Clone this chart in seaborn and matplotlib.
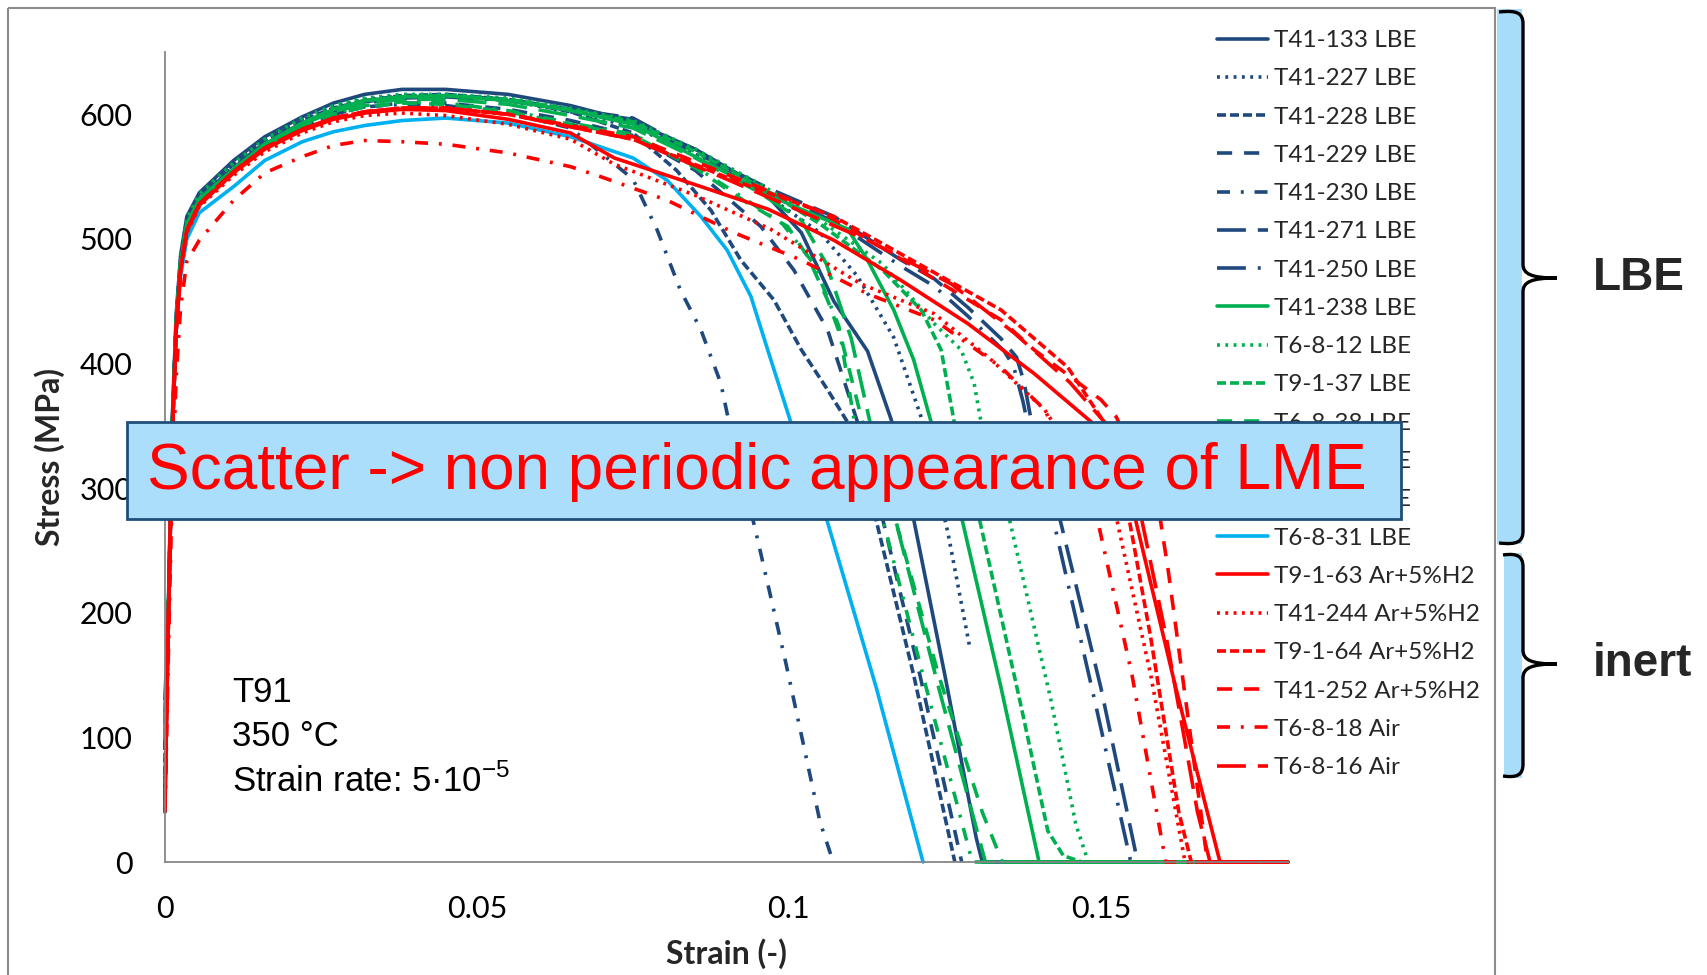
import pandas as pd
import matplotlib
matplotlib.use("Agg")
import matplotlib.pyplot as plt
from matplotlib.patches import Rectangle, PathPatch
from matplotlib.path import Path
import seaborn as sns

# ==========================================
# 1. Data (strain [-], stress [MPa])
# ==========================================
labels = ["T41-133 LBE", "T41-227 LBE", "T41-228 LBE", "T41-229 LBE", "T41-230 LBE",
          "T41-271 LBE", "T41-250 LBE", "T41-238 LBE", "T6-8-12 LBE", "T9-1-37 LBE",
          "T6-8-38 LBE", "T6-8-35 LBE", "T6-8-36 LBE", "T6-8-31 LBE",
          "T9-1-63 Ar+5%H2", "T41-244 Ar+5%H2", "T9-1-64 Ar+5%H2", "T41-252 Ar+5%H2",
          "T6-8-18 Air", "T6-8-16 Air"]

navy, green, cyan, red = "#1F497D", "#00B050", "#00B0F0", "#FF0000"
colors = [navy] * 7 + [green] * 6 + [cyan] + [red] * 6

solid, dot, dash, mdash = "", (0.8, 1.5), (2.5, 1.1), (4.2, 3.3)
dashdot, ldash, ldashdot = (3.6, 3, 0.8, 3), (8, 3.3), (8, 3.3, 0.8, 3.3)
styles = [solid, dot, dash, mdash, dashdot, ldash, ldashdot,
          solid, dot, dash, mdash, dashdot, ldash, solid,
          solid, dot, dash, mdash, dashdot, ldash]

# common strain grid of the elastic / hardening part
rise_strain = [0.0, 0.0006, 0.0012, 0.0018, 0.0025, 0.0035, 0.0055, 0.011,
               0.016, 0.022, 0.027, 0.032, 0.038, 0.045, 0.055, 0.065]

rise_t41_133 = [40, 220, 360, 440, 487, 518, 537, 563, 582, 598, 609, 616, 620, 620, 616, 607]
rise_t41_227 = [60, 215, 355, 436, 483, 514, 534, 560, 580, 596, 606, 612, 615, 615, 611, 602]
rise_t41_228 = [80, 215, 355, 435, 483, 515, 535, 560, 579, 595, 605, 611, 615, 616, 612, 602]
rise_t41_229 = [90, 212, 352, 432, 478, 510, 530, 555, 574, 590, 600, 606, 609, 609, 604, 595]
rise_t41_230 = [90, 212, 352, 432, 478, 510, 530, 555, 574, 590, 600, 606, 608, 607, 601, 589]
rise_t41_271 = [120, 215, 355, 435, 481, 512, 532, 558, 577, 593, 603, 610, 614, 615, 612, 604]
rise_t41_250 = [130, 215, 355, 435, 481, 512, 532, 557, 576, 592, 602, 609, 613, 614, 611, 603]
rise_t41_238 = [100, 212, 352, 432, 480, 512, 532, 556, 576, 593, 604, 611, 614, 615, 611, 603]
rise_t6_8_12 = [100, 215, 356, 436, 484, 516, 536, 561, 580, 597, 607, 613, 616, 616, 613, 605]
rise_t9_1_37 = [100, 212, 352, 432, 480, 511, 531, 556, 576, 593, 604, 611, 614, 615, 612, 604]
rise_t6_8_38 = [110, 212, 350, 430, 478, 510, 530, 555, 574, 590, 600, 606, 609, 608, 602, 592]
rise_t6_8_35 = [110, 212, 350, 430, 478, 510, 530, 555, 575, 591, 601, 607, 610, 609, 603, 593]
rise_t6_8_36 = [110, 212, 352, 432, 479, 511, 531, 556, 575, 592, 602, 609, 612, 612, 608, 599]
rise_t6_8_31 = [100, 205, 345, 425, 470, 500, 521, 542, 563, 578, 586, 591, 595, 597, 593, 582]
rise_t9_1_63 = [50, 208, 348, 428, 475, 506, 527, 553, 572, 587, 596, 601, 604, 603, 596, 585]
rise_t41_244 = [60, 208, 348, 428, 474, 505, 526, 551, 570, 585, 594, 599, 601, 599, 592, 580]
rise_t9_1_64 = [70, 208, 348, 428, 476, 507, 528, 554, 573, 588, 597, 602, 605, 605, 600, 590]
rise_t41_252 = [50, 208, 348, 428, 476, 507, 528, 554, 573, 588, 597, 602, 605, 605, 600, 591]
rise_t6_8_18 = [40, 180, 310, 390, 445, 482, 499, 531, 553, 566, 575, 579, 578, 576, 569, 558]
rise_t6_8_16 = [60, 208, 348, 428, 476, 507, 528, 554, 573, 588, 597, 602, 605, 605, 600, 590]

# necking and fracture part, (strain, stress)
tail_t41_133 = [(0.075, 594), (0.085, 572), (0.095, 543), (0.102, 505), (0.1072, 450), (0.1126, 410),
                (0.1164, 355), (0.119, 300), (0.125, 150), (0.130, 20), (0.131, 0), (0.18, 0)]
tail_t41_227 = [(0.075, 590), (0.085, 568), (0.095, 540), (0.105, 505), (0.111, 470), (0.1168, 421),
                (0.1212, 357), (0.1255, 264), (0.129, 172)]
tail_t41_228 = [(0.075, 585), (0.082, 555), (0.0875, 523), (0.0923, 483), (0.0976, 451), (0.102, 411),
                (0.1062, 379), (0.1094, 353), (0.1139, 276), (0.120, 150), (0.1266, 0)]
tail_t41_229 = [(0.075, 583), (0.085, 555), (0.0955, 510), (0.1008, 475), (0.1062, 427), (0.111, 353),
                (0.115, 276), (0.121, 150), (0.1277, 0)]
tail_t41_230 = [(0.075, 548), (0.0789, 507), (0.0826, 459), (0.0859, 427), (0.0891, 384), (0.0901, 360),
                (0.0947, 265), (0.0995, 160), (0.1023, 95), (0.105, 32), (0.1071, 0)]
tail_t41_271 = [(0.075, 597), (0.0875, 563), (0.097, 540), (0.1072, 518), (0.118, 483), (0.1233, 468),
                (0.1287, 445), (0.134, 420), (0.1365, 405), (0.1377, 385), (0.139, 350), (0.1436, 272),
                (0.150, 140), (0.1559, 0), (0.18, 0)]
tail_t41_250 = [(0.075, 596), (0.0875, 560), (0.097, 537), (0.1072, 514), (0.118, 478), (0.1233, 462),
                (0.1287, 438), (0.1345, 410), (0.136, 398), (0.1375, 370), (0.1392, 330), (0.1425, 272),
                (0.149, 130), (0.1548, 0), (0.18, 0)]
tail_t41_238 = [(0.075, 592), (0.085, 566), (0.095, 540), (0.1, 528), (0.1094, 508), (0.1126, 483),
                (0.1168, 443), (0.120, 403), (0.1228, 353), (0.1277, 276), (0.134, 140), (0.1401, 0),
                (0.18, 0)]
tail_t6_8_12 = [(0.075, 595), (0.085, 572), (0.095, 545), (0.105, 515), (0.115, 480), (0.1233, 432),
                (0.1276, 411), (0.1297, 384), (0.1308, 353), (0.1353, 276), (0.142, 130), (0.146, 30),
                (0.148, 0), (0.18, 0)]
tail_t9_1_37 = [(0.075, 594), (0.085, 570), (0.095, 543), (0.105, 512), (0.115, 475), (0.1212, 443),
                (0.1244, 411), (0.1265, 353), (0.1305, 276), (0.137, 130), (0.1415, 25), (0.144, 5),
                (0.147, 0), (0.18, 0)]
tail_t6_8_38 = [(0.075, 583), (0.085, 557), (0.093, 530), (0.0998, 510), (0.103, 486), (0.1062, 451),
                (0.1083, 422), (0.1118, 353), (0.117, 276), (0.124, 150), (0.131, 40), (0.1342, 0),
                (0.18, 0)]
tail_t6_8_35 = [(0.075, 584), (0.085, 558), (0.093, 532), (0.099, 512), (0.104, 480), (0.108, 430),
                (0.1105, 353), (0.115, 276), (0.122, 140), (0.1294, 0), (0.18, 0)]
tail_t6_8_36 = [(0.075, 589), (0.085, 565), (0.095, 538), (0.102, 515), (0.106, 480), (0.110, 420),
                (0.113, 353), (0.117, 276), (0.124, 140), (0.1315, 0), (0.18, 0)]
tail_t6_8_31 = [(0.075, 565), (0.0805, 547), (0.0859, 518), (0.0901, 491), (0.0939, 454), (0.0966, 411),
                (0.1003, 353), (0.106, 276), (0.114, 140), (0.1215, 0)]
tail_t9_1_63 = [(0.072, 565), (0.0859, 542), (0.0966, 524), (0.1072, 499), (0.1179, 467), (0.1287, 432),
                (0.1393, 392), (0.1485, 353), (0.1555, 276), (0.162, 140), (0.1691, 0), (0.18, 0)]
tail_t41_244 = [(0.072, 560), (0.085, 535), (0.097, 508), (0.1115, 464), (0.1233, 440), (0.132, 405),
                (0.141, 363), (0.1465, 320), (0.1525, 276), (0.158, 150), (0.1635, 0), (0.18, 0)]
tail_t9_1_64 = [(0.075, 580), (0.0912, 547), (0.1072, 518), (0.1233, 473), (0.134, 443), (0.1447, 397),
                (0.1505, 353), (0.154, 290), (0.158, 180), (0.1625, 40), (0.1645, 0), (0.18, 0)]
tail_t41_252 = [(0.075, 582), (0.09, 552), (0.105, 522), (0.12, 478), (0.134, 435), (0.1393, 411),
                (0.1447, 391), (0.150, 371), (0.1525, 357), (0.1595, 276), (0.1608, 234), (0.1671, 0),
                (0.18, 0)]
tail_t6_8_18 = [(0.0698, 550), (0.0805, 531), (0.0912, 505), (0.102, 483), (0.1126, 456), (0.1233, 435),
                (0.134, 397), (0.141, 363), (0.1494, 276), (0.155, 150), (0.1604, 0), (0.18, 0)]
tail_t6_8_16 = [(0.075, 580), (0.09, 548), (0.1126, 499), (0.126, 464), (0.136, 425), (0.145, 385),
                (0.152, 345), (0.1565, 276), (0.1605, 180), (0.1655, 40), (0.1675, 0), (0.18, 0)]

rises = [rise_t41_133, rise_t41_227, rise_t41_228, rise_t41_229, rise_t41_230, rise_t41_271,
         rise_t41_250, rise_t41_238, rise_t6_8_12, rise_t9_1_37, rise_t6_8_38, rise_t6_8_35,
         rise_t6_8_36, rise_t6_8_31, rise_t9_1_63, rise_t41_244, rise_t9_1_64, rise_t41_252,
         rise_t6_8_18, rise_t6_8_16]
tails = [tail_t41_133, tail_t41_227, tail_t41_228, tail_t41_229, tail_t41_230, tail_t41_271,
         tail_t41_250, tail_t41_238, tail_t6_8_12, tail_t9_1_37, tail_t6_8_38, tail_t6_8_35,
         tail_t6_8_36, tail_t6_8_31, tail_t9_1_63, tail_t41_244, tail_t9_1_64, tail_t41_252,
         tail_t6_8_18, tail_t6_8_16]

rows = []
for lab, rise, tail in zip(labels, rises, tails):
    for e, s in zip(rise_strain, rise):
        rows.append((lab, e, s))
    for e, s in tail:
        rows.append((lab, e, s))
df = pd.DataFrame(rows, columns=["sample", "strain", "stress"])

# ==========================================
# 2. Plot
# ==========================================
sns.set_style("white")
plt.rcParams["font.family"] = ["Lato", "DejaVu Sans"]
plt.rcParams["mathtext.fontset"] = "custom"
plt.rcParams["mathtext.rm"] = "Liberation Sans"

W, H = 1707, 975
fig = plt.figure(figsize=(W / 100, H / 100), dpi=100)
ax = fig.add_axes([165 / W, 1 - 862 / H, (1288 - 165) / W, (862 - 52) / H])

sns.lineplot(data=df, x="strain", y="stress", hue="sample", style="sample",
             hue_order=labels, style_order=labels,
             palette=dict(zip(labels, colors)), dashes=dict(zip(labels, styles)),
             estimator=None, sort=False, linewidth=2.6, legend=False, ax=ax)
for ln in ax.lines:
    ln.set_clip_on(False)

ax.set_xlim(0, 0.18)
ax.set_ylim(0, 650)
ax.set_xticks([0, 0.05, 0.1, 0.15], ["0", "0.05", "0.1", "0.15"])
ax.set_yticks(range(0, 700, 100))
grey = "#868686"
for side in ["top", "right"]:
    ax.spines[side].set_visible(False)
for side in ["left", "bottom"]:
    ax.spines[side].set_color(grey)
    ax.spines[side].set_linewidth(1.3)
ax.tick_params(axis="both", direction="out", length=8.5, width=1.3, color=grey,
               labelsize=22, pad=15, labelcolor="black")
ax.set_xlabel("Strain (-)", fontsize=23, fontweight="bold", labelpad=11)
ax.set_ylabel("Stress (MPa)", fontsize=23, fontweight="bold", labelpad=10)

leg = ax.legend(ax.lines[:len(labels)], labels, loc="upper left",
                bbox_to_anchor=(1217 / W, 1 - 30 / H), bbox_transform=fig.transFigure,
                frameon=False, fontsize=17.5, handlelength=2.1, handletextpad=0.25,
                labelspacing=0.71, borderpad=0, borderaxespad=0)

# ==========================================
# 3. Overlay: frame, message box, braces, conditions
# ==========================================
ov = fig.add_axes([0, 0, 1, 1], zorder=10)
ov.set_xlim(0, W)
ov.set_ylim(H, 0)
ov.axis("off")
ov.patch.set_alpha(0)

ov.add_patch(Rectangle((8, 8), 1487, 1000, fill=False, ec="#8C8C8C", lw=1.5))

ov.add_patch(Rectangle((127, 422), 1274, 97, fc="#ABDEFA", ec="#1F4E79", lw=2))
ov.text(147, 472, "Scatter -> non periodic appearance of LME", color="red",
        fontsize=46, family="Liberation Sans", ha="left", va="center")

arial = dict(family="Liberation Sans", fontsize=25, color="black", ha="left", va="center")
ov.text(232, 692, "T91", **arial)
ov.text(232, 737, "350 °C", **arial)
ov.text(232, 781, "Strain rate: 5·10$^{-5}$", **arial)

ov.add_patch(Rectangle((1497, 9), 25, 535, fc="#A8DDF9", ec="none"))
ov.add_patch(Rectangle((1504, 553), 18, 225, fc="#A8DDF9", ec="none"))


def brace(x_sp, y_top, y_bot, y_mid, x_tip, x_hook):
    C = Path.CURVE4
    verts = [(x_hook, y_top + 2),
             (x_sp - 6, y_top), (x_sp, y_top + 3), (x_sp, y_top + 14),
             (x_sp, y_mid - 14),
             (x_sp, y_mid - 4), (x_sp + 8, y_mid), (x_tip, y_mid),
             (x_sp + 8, y_mid), (x_sp, y_mid + 4), (x_sp, y_mid + 14),
             (x_sp, y_bot - 14),
             (x_sp, y_bot - 3), (x_sp - 6, y_bot), (x_hook, y_bot - 2)]
    codes = [Path.MOVETO, C, C, C, Path.LINETO, C, C, C, C, C, C, Path.LINETO, C, C, C]
    return PathPatch(Path(verts, codes), fill=False, ec="black", lw=2.4)


ov.add_patch(brace(1523, 10, 545, 278, 1557, 1499))
ov.add_patch(brace(1523, 553, 778, 664, 1557, 1503))
bold = dict(family="Liberation Sans", fontsize=33, fontweight="bold", ha="left", va="center")
ov.text(1593, 278, "LBE", **bold)
ov.text(1593, 664, "inert", **bold)

fig.savefig("out.png", dpi=100)
